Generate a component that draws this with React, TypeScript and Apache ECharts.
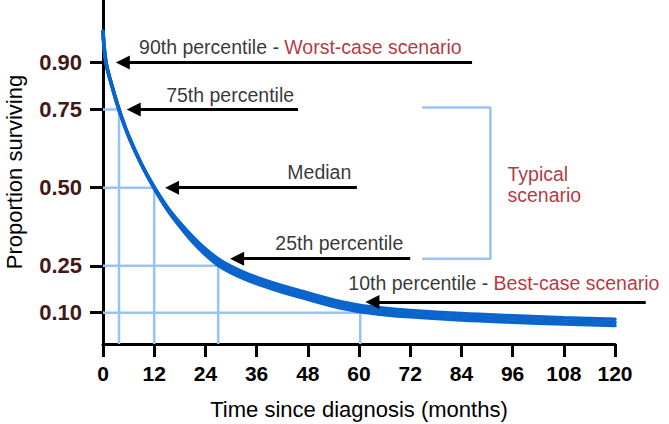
import React, { useEffect, useRef } from 'react';
import * as echarts from 'echarts';

// Survival curve
const months = [0, 0.7, 2, 3.75, 6, 9, 12, 15, 18, 21, 24, 27, 30, 33, 36, 42, 48, 54, 60, 66, 72, 84, 96, 108, 120];
const survival = [1.0, 0.9, 0.83, 0.75, 0.665, 0.575, 0.5, 0.435, 0.382, 0.335, 0.295, 0.262, 0.238, 0.219, 0.203, 0.176, 0.153, 0.131, 0.114, 0.104, 0.097, 0.087, 0.08, 0.074, 0.069];
// half thickness of the thick part of the curve (confidence band look)
const bandHalf = [0, 0, 0, 0, 0, 0, 0.002, 0.004, 0.006, 0.008, 0.009, 0.01, 0.01, 0.01, 0.01, 0.01, 0.01, 0.01, 0.01, 0.01, 0.01, 0.01, 0.01, 0.01, 0.01];

const yTickValues = [0.1, 0.25, 0.5, 0.75, 0.9];

// percentile guides
const guideLevels = [0.75, 0.5, 0.25, 0.1];
const guideMonths = [3.75, 12, 27, 60.3];

// arrows
const arrowY = [0.9, 0.75, 0.5, 0.273, 0.134];
const arrowTip = [3.0, 5.56, 14.55, 29.8, 61.5];
const arrowTail = [86.5, 45.7, 59.5, 72.0, 127.2];

// notes
const noteBlack = ['90th percentile - ', '75th percentile', 'Median', '25th percentile', '10th percentile - '];
const noteRed = ['Worst-case scenario', '', '', '', 'Best-case scenario'];
const noteX = [8.45, 14.8, 43.2, 40.4, 57.5];
const noteY = [0.951, 0.796, 0.55, 0.323, 0.194];

const bracketX = [74.8, 90.8, 90.8, 74.8];
const bracketY = [0.756, 0.756, 0.273, 0.273];
const typicalText = 'Typical\nscenario';
const typicalPos = [94.8, 0.51];

const FONT = '"Liberation Sans", Arial, Helvetica, sans-serif';
const BLUE = '#0a64cc';
const LIGHT = '#99c3f6';
const RED = '#a3000c';
const BROWN = '#441818';

export default function App() {
  const ref = useRef<HTMLDivElement>(null);
  useEffect(() => {
    if (!ref.current) return;
    const chart = echarts.init(ref.current, undefined, { renderer: 'svg' });
    const tipOffset = 7 / 4.2625;

    const curve = months.map((m, i) => [m, survival[i]]);
    const upper = months.map((m, i) => [m, survival[i] + bandHalf[i]]);
    const lower = months.map((m, i) => [m, survival[i] - bandHalf[i]]);

    const guideSeries = guideLevels.map((lv, i) => ({
      type: 'line',
      data: [[0, lv], [guideMonths[i], lv], [guideMonths[i], 0]],
      showSymbol: false,
      symbol: 'none',
      lineStyle: { color: LIGHT, width: 2.5 },
      silent: true,
      z: 1,
    }));

    const curveLine = (data: number[][]) => ({
      type: 'line',
      data,
      smooth: 0.4,
      showSymbol: false,
      symbol: 'none',
      lineStyle: { color: BLUE, width: 3.6, cap: 'round' },
      silent: true,
      z: 3,
    });

    const option: any = {
      animation: false,
      backgroundColor: '#fff',
      grid: { left: 103, right: 54, top: 0, bottom: 80, containLabel: false, outerBoundsMode: 'none' },
      xAxis: {
        type: 'value',
        min: 0,
        max: 120,
        interval: 12,
        name: 'Time since diagnosis (months)',
        nameLocation: 'middle',
        nameGap: 54,
        nameTextStyle: { fontSize: 22, color: '#000', fontFamily: FONT },
        axisLine: { show: true, onZero: false, lineStyle: { color: '#000', width: 3 } },
        axisTick: { show: true, length: 13, lineStyle: { color: '#000', width: 3 } },
        axisLabel: { fontSize: 21, fontWeight: 'bold', color: '#000', fontFamily: FONT, margin: 19 },
        splitLine: { show: false },
      },
      yAxis: {
        type: 'value',
        min: 0,
        max: 1.1,
        name: 'Proportion surviving',
        nameLocation: 'middle',
        nameGap: 78,
        nameTextStyle: { fontSize: 22, color: '#000', fontFamily: FONT },
        axisLine: { show: true, onZero: false, lineStyle: { color: '#000', width: 3 } },
        axisTick: { show: true, length: 13, customValues: yTickValues, lineStyle: { color: '#000', width: 3 } },
        axisLabel: {
          customValues: yTickValues,
          formatter: (v: number) => v.toFixed(2),
          fontSize: 22,
          fontWeight: 'bold',
          color: BROWN,
          fontFamily: FONT,
          margin: 21,
        },
        splitLine: { show: false },
      },
      series: [
        ...guideSeries,
        {
          type: 'line',
          data: bracketX.map((x, i) => [x, bracketY[i]]),
          showSymbol: false,
          symbol: 'none',
          lineStyle: { color: LIGHT, width: 2.5 },
          silent: true,
          clip: false,
          z: 1,
        },
        curveLine(lower),
        curveLine(upper),
        curveLine(curve),
        {
          type: 'lines',
          coordinateSystem: 'cartesian2d',
          silent: true,
          clip: false,
          symbol: ['none', 'triangle'],
          symbolSize: [12, 14],
          lineStyle: { color: '#000', width: 3, type: 'solid', opacity: 1 },
          label: { show: false },
          data: arrowY.map((y, i) => ({
            coords: [[arrowTail[i], y], [arrowTip[i] + tipOffset, y]],
          })),
          z: 4,
        },
        {
          type: 'scatter',
          symbolSize: 0,
          silent: true,
          clip: false,
          data: noteX.map((x, i) => [x, noteY[i]]),
          label: {
            show: true,
            position: 'right',
            distance: 0,
            formatter: (p: any) => {
              const i = p.dataIndex;
              return `{k|${noteBlack[i]}}` + (noteRed[i] ? `{r|${noteRed[i]}}` : '');
            },
            rich: {
              k: { color: '#000', fontSize: 19.5, fontFamily: FONT },
              r: { color: RED, fontSize: 19.5, fontFamily: FONT },
            },
          },
          z: 5,
        },
        {
          type: 'scatter',
          symbolSize: 0,
          silent: true,
          clip: false,
          data: [typicalPos],
          label: {
            show: true,
            position: 'right',
            distance: 0,
            formatter: typicalText,
            color: RED,
            fontSize: 19.5,
            lineHeight: 21,
            fontFamily: FONT,
          },
          z: 5,
        },
      ],
    };
    chart.setOption(option);
    return () => chart.dispose();
  }, []);
  return (
    <div
      ref={ref}
      style={{ position: 'fixed', left: 0, top: 0, width: 669, height: 424, background: '#fff' }}
    />
  );
}
